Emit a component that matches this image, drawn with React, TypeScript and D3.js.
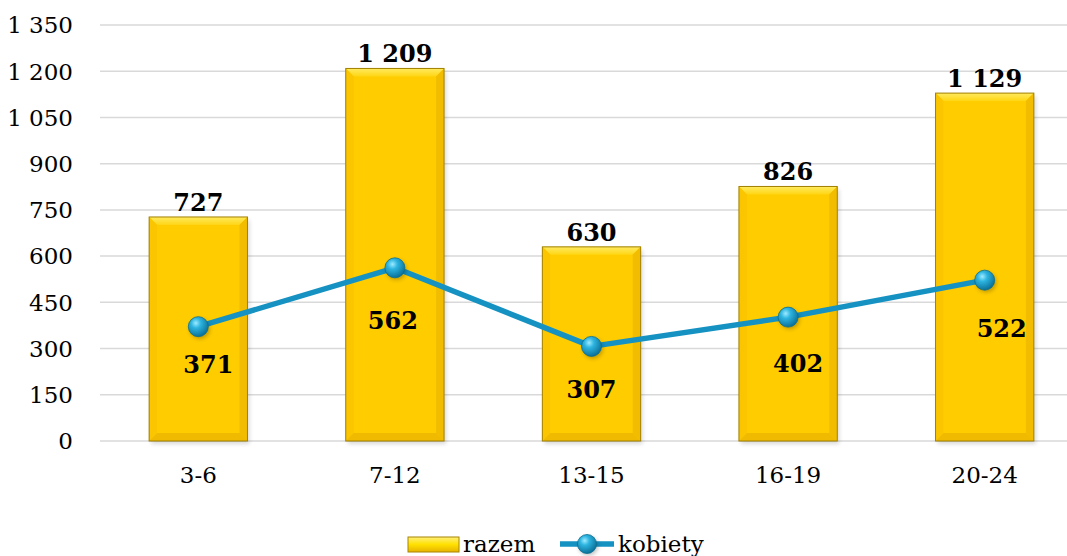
import React from "react";
import * as d3 from "d3";

const categories = ["3-6", "7-12", "13-15", "16-19", "20-24"];
const razem = [727, 1209, 630, 826, 1129];
const kobiety = [371, 562, 307, 402, 522];
const yTicks = [0, 150, 300, 450, 600, 750, 900, 1050, 1200, 1350];
const seriesNames = ["razem", "kobiety"];

// label nudges (styling only)
const lineLabelDx = [10, -2, 0, 10, 17];
const lineLabelDy = [53, 68, 59, 62, 64];

const W = 1067;
const H = 556;
const left = 100;
const right = 1083;
const top = 25;
const bottom = 441;
const FONT = "'DejaVu Serif', 'Liberation Serif', serif";

const fmt = (v: number) => {
  const s = String(v);
  return s.length > 3 ? s.slice(0, s.length - 3) + " " + s.slice(-3) : s;
};

function Bar({ x, y, w, h }: { x: number; y: number; w: number; h: number }) {
  const b = 8;
  return (
    <g>
      <rect x={x + 2} y={y + 3} width={w} height={h} fill="#000" opacity={0.15} filter="url(#blur)" />
      <rect x={x} y={y} width={w} height={h} fill="#FFCC00" />
      <polygon points={`${x},${y} ${x + w},${y} ${x + w - b},${y + b} ${x + b},${y + b}`} fill="url(#topBevel)" />
      <polygon points={`${x},${y} ${x + b},${y + b} ${x + b},${y + h - b} ${x},${y + h}`} fill="#FBC600" />
      <polygon points={`${x + w},${y} ${x + w - b},${y + b} ${x + w - b},${y + h - b} ${x + w},${y + h}`} fill="#F2BD00" />
      <polygon points={`${x},${y + h} ${x + b},${y + h - b} ${x + w - b},${y + h - b} ${x + w},${y + h}`} fill="#F0BA00" />
      <rect x={x} y={y} width={w} height={h} fill="none" stroke="#A08000" strokeWidth={1} />
    </g>
  );
}

function Marker({ cx, cy, r }: { cx: number; cy: number; r: number }) {
  return (
    <g>
      <circle cx={cx + 1.5} cy={cy + 2} r={r} fill="#000" opacity={0.25} filter="url(#blur)" />
      <circle cx={cx} cy={cy} r={r} fill="url(#sphere)" stroke="#0B6E93" strokeWidth={0.8} />
    </g>
  );
}

export default function App() {
  const x = d3.scaleBand<string>().domain(categories).range([left, right]).paddingInner(0.5).paddingOuter(0.25);
  const y = d3.scaleLinear().domain([0, 1350]).range([bottom, top]);
  const cx = (c: string) => (x(c) as number) + x.bandwidth() / 2;
  const line = d3
    .line<number>()
    .x((_, i) => cx(categories[i]))
    .y((d) => y(d));

  return (
    <svg width={W} height={H} style={{ position: "absolute", left: 0, top: 0 }} fontFamily={FONT}>
      <defs>
        <filter id="blur" x="-20%" y="-20%" width="140%" height="140%">
          <feGaussianBlur stdDeviation="2" />
        </filter>
        <linearGradient id="topBevel" x1="0" y1="0" x2="0" y2="1">
          <stop offset="0" stopColor="#FFEA60" />
          <stop offset="1" stopColor="#FFD614" />
        </linearGradient>
        <radialGradient id="sphere" cx="0.38" cy="0.32" r="0.7">
          <stop offset="0" stopColor="#9EEBFF" />
          <stop offset="0.35" stopColor="#2DB4E0" />
          <stop offset="1" stopColor="#0A6F96" />
        </radialGradient>
        <linearGradient id="legendBar" x1="0" y1="0" x2="0" y2="1">
          <stop offset="0" stopColor="#FFF07A" />
          <stop offset="0.5" stopColor="#FFE000" />
          <stop offset="1" stopColor="#E6B400" />
        </linearGradient>
      </defs>
      <rect width={W} height={H} fill="#fff" />
      {yTicks.map((t) => (
        <g key={t}>
          <line x1={left} x2={W} y1={y(t)} y2={y(t)} stroke="#D9D9D9" strokeWidth={1.5} />
          <text x={73} y={y(t)} dy="0.36em" textAnchor="end" fontSize={23} fill="#000">
            {fmt(t)}
          </text>
        </g>
      ))}
      {categories.map((c, i) => {
        const bx = x(c) as number;
        return <Bar key={c} x={bx} y={y(razem[i])} w={x.bandwidth()} h={y(0) - y(razem[i])} />;
      })}
      {categories.map((c) => (
        <text key={c} x={cx(c)} y={483} textAnchor="middle" fontSize={23} fill="#000">
          {c}
        </text>
      ))}
      <path d={line(kobiety) as string} fill="none" stroke="#1592C2" strokeWidth={5.5} strokeLinejoin="round" />
      {kobiety.map((v, i) => (
        <Marker key={i} cx={cx(categories[i])} cy={y(v)} r={10} />
      ))}
      {razem.map((v, i) => (
        <text key={i} x={cx(categories[i])} y={y(v) - 6} textAnchor="middle" fontSize={24} fontWeight="bold" fill="#000">
          {fmt(v)}
        </text>
      ))}
      {kobiety.map((v, i) => (
        <text
          key={i}
          x={cx(categories[i]) + lineLabelDx[i]}
          y={y(v) + lineLabelDy[i] - 7}
          textAnchor="middle"
          fontSize={24}
          fontWeight="bold"
          fill="#000"
        >
          {fmt(v)}
        </text>
      ))}
      <g>
        <rect x={408} y={537} width={51} height={15} fill="url(#legendBar)" stroke="#A88400" strokeWidth={1} />
        <text x={463} y={552} fontSize={23} fill="#000">{seriesNames[0]}</text>
        <line x1={560} x2={614} y1={544} y2={544} stroke="#1592C2" strokeWidth={5.5} />
        <Marker cx={587} cy={544} r={9.5} />
        <text x={618} y={552} fontSize={23} fill="#000">{seriesNames[1]}</text>
      </g>
    </svg>
  );
}
